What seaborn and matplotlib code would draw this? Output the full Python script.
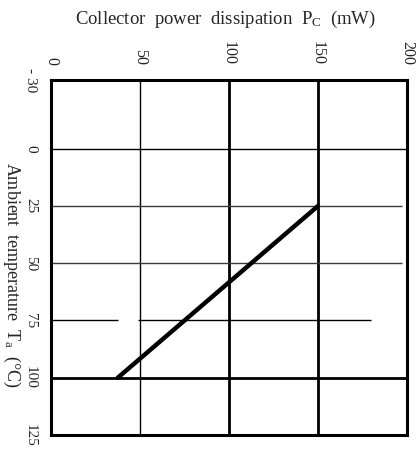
import matplotlib
matplotlib.use("Agg")
import matplotlib.pyplot as plt
import seaborn as sns
import pandas as pd

# Data
temp_ticks = [-30, 0, 25, 50, 75, 100, 125]
temp_tick_labels = ["- 30", "0", "25", "50", "75", "100", "125"]
pc_ticks = [0, 50, 100, 150, 200]
pc_tick_labels = ["0", "50", "100", "150", "200"]
derate_temp = [25, 100]
derate_pc = [150, 37.5]

sns.set_theme(style="white")
plt.rcParams["font.family"] = ["Liberation Serif", "DejaVu Serif"]
plt.rcParams["mathtext.fontset"] = "custom"
plt.rcParams["mathtext.rm"] = "Liberation Serif"
plt.rcParams["mathtext.it"] = "Liberation Serif"

fig = plt.figure(figsize=(4.16, 4.51), dpi=100)
ax = fig.add_axes([51 / 416, 1 - 435 / 451, 356 / 416, 355 / 451])

df = pd.DataFrame({"pc": derate_pc, "temp": derate_temp})

# grid lines
ax.axvline(50, color="black", lw=1.0, zorder=1)
ax.axvline(100, color="black", lw=2.0, zorder=1)
ax.axvline(150, color="black", lw=2.0, zorder=1)
ax.axhline(0, color="black", lw=1.0, zorder=1)
ax.hlines([25, 50], 0, 197, color="#3a3a3a", lw=1.0, zorder=1)
ax.hlines([75, 75], [0, 49], [37.5, 180], color="black", lw=1.0, zorder=1)
ax.axhline(100, color="black", lw=2.0, zorder=1)

sns.lineplot(data=df, x="pc", y="temp", sort=False, color="black", lw=3.2, ax=ax, zorder=3)

ax.set_xlim(0, 200)
ax.set_ylim(125, -30)
ax.xaxis.tick_top()
ax.set_xticks(pc_ticks)
ax.set_xticklabels(pc_tick_labels, rotation=-90, va="bottom", ha="center", fontsize=11.5)
ax.set_yticks(temp_ticks)
ax.set_yticklabels(temp_tick_labels, rotation=-90, va="center", ha="right", fontsize=11)
ax.tick_params(axis="x", length=0, pad=11)
ax.tick_params(axis="y", length=0, pad=10)

for s in ax.spines.values():
    s.set_linewidth(2.2)
    s.set_color("black")

ax.set_xlabel("")
ax.set_ylabel("")
ax.text(0.49, 1.17, "Collector  power  dissipation  P$_{\\rm C}$  (mW)", transform=ax.transAxes,
        ha="center", va="center", fontsize=13.5)
ax.text(-0.112, 0.45, "Ambient  temperature  T$_{\\rm a}$  (\u00b0C)", transform=ax.transAxes,
        ha="center", va="center", rotation=-90, fontsize=13)

fig.savefig("out.png", dpi=100)
